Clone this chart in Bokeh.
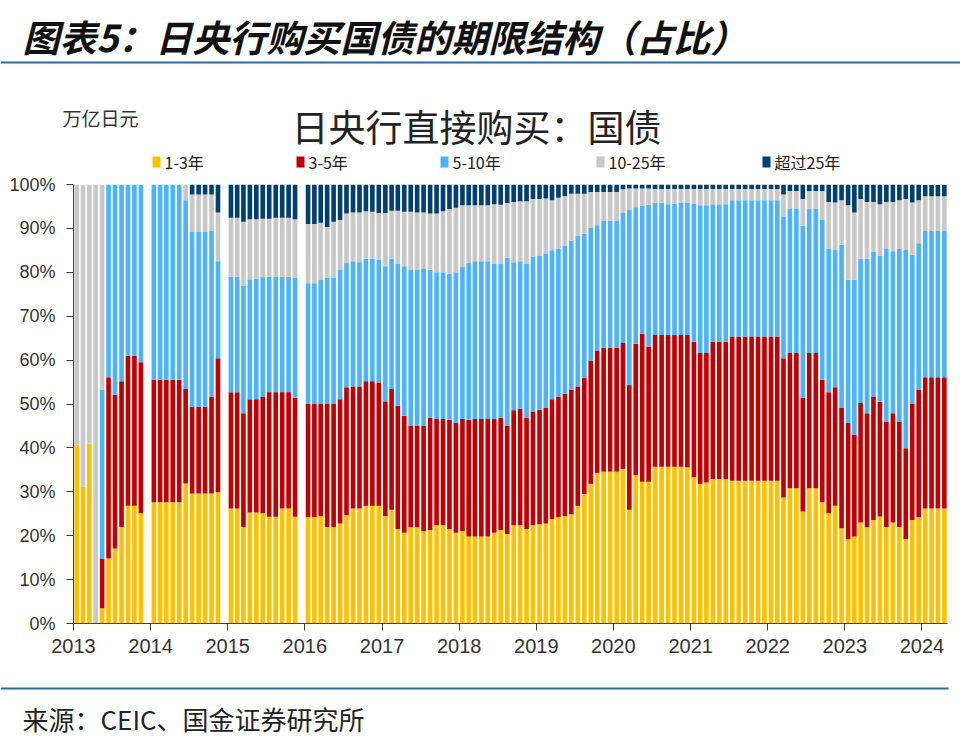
import pandas as pd
from bokeh.plotting import figure
from bokeh.layouts import column
from bokeh.models import ColumnDataSource, Range1d, FixedTicker, DatetimeTickFormatter
from bokeh.core.properties import value
from bokeh.embed import file_html
from bokeh.resources import INLINE

# ---------------- data (share of BOJ JGB purchases by maturity, %) ----------------
start_month = "2013-01-01"
n_months = 136
series_names = ["1-3年", "3-5年", "5-10年", "10-25年", "超过25年"]
year_labels = [str(y) for y in range(2013, 2025)]
y_ticks = [0, 10, 20, 30, 40, 50, 60, 70, 80, 90, 100]

s_1_3 = [40.7, 31.2, 41.0, 0, 3.5, 14.8, 17.1, 22.0, 26.8, 26.8, 25.1, 0,
         27.6, 27.6, 27.6, 27.6, 27.6, 31.9, 29.6, 29.6, 29.6, 29.6, 29.9, 0,
         26.2, 26.2, 22.0, 25.3, 25.3, 25.1, 24.3, 24.3, 26.2, 26.2, 24.3, 0,
         24.2, 24.2, 24.5, 22.0, 22.0, 22.8, 24.7, 26.2, 26.2, 26.8, 26.8, 26.8,
         24.5, 25.9, 21.5, 20.7, 21.9, 21.9, 21.0, 21.3, 22.4, 22.4, 21.5, 20.7,
         21.0, 19.8, 19.8, 19.8, 19.8, 20.7, 21.3, 20.4, 22.4, 22.4, 21.5, 22.4,
         22.6, 22.8, 23.8, 24.2, 24.5, 24.9, 26.8, 29.5, 31.8, 34.3, 34.6, 34.6,
         34.6, 35.2, 25.9, 33.8, 32.3, 32.3, 35.7, 35.7, 35.7, 35.7, 35.7, 35.6,
         33.3, 31.8, 32.1, 32.9, 32.9, 32.9, 32.5, 32.5, 32.5, 32.5, 32.5, 32.5,
         32.5, 32.5, 28.7, 30.8, 30.8, 25.5, 30.8, 30.8, 27.6, 25.1, 26.8, 21.7,
         19.2, 19.8, 23.0, 21.9, 23.6, 24.4, 22.0, 23.0, 22.0, 19.2, 23.6, 24.2,
         26.2, 26.2, 26.2, 26.2]

s_3_5 = [0, 0, 0, 0, 11.3, 41.3, 35.0, 33.2, 34.2, 34.2, 34.4, 0,
         27.9, 27.9, 27.9, 27.9, 27.9, 21.5, 19.8, 19.8, 19.8, 22.1, 30.5, 0,
         26.5, 26.5, 25.9, 25.8, 25.8, 26.6, 28.4, 28.4, 26.5, 26.5, 27.1, 0,
         25.8, 25.8, 25.5, 28.0, 28.0, 28.3, 29.1, 27.8, 27.8, 28.4, 28.4, 28.1,
         26.1, 27.5, 28.1, 26.6, 23.2, 23.2, 24.1, 25.5, 24.2, 24.2, 24.9, 25.0,
         25.6, 26.6, 26.8, 26.8, 26.8, 25.9, 25.5, 24.7, 26.2, 26.5, 25.3, 25.9,
         26.1, 26.3, 27.3, 27.5, 27.8, 28.3, 27.2, 26.4, 28.1, 27.9, 28.2, 28.2,
         28.2, 28.7, 28.4, 29.9, 33.7, 30.8, 30.0, 30.0, 30.0, 30.0, 30.0, 30.1,
         30.9, 29.8, 29.5, 31.3, 31.3, 31.3, 32.9, 32.9, 32.9, 32.9, 32.9, 32.9,
         32.9, 32.9, 31.7, 30.8, 30.8, 25.9, 30.8, 30.8, 27.9, 27.6, 27.0, 27.4,
         26.5, 23.2, 27.2, 26.0, 28.1, 26.1, 24.0, 24.9, 24.0, 20.7, 26.4, 29.1,
         29.9, 29.9, 29.9, 29.9]

s_5_10 = [0, 0, 0, 0, 38.4, 43.9, 47.9, 44.8, 39.0, 39.0, 40.5, 0,
          44.5, 44.5, 44.5, 44.5, 44.5, 43.0, 39.8, 39.8, 39.8, 37.8, 22.1, 0,
          26.3, 26.3, 29.1, 27.3, 27.4, 27.2, 26.3, 26.3, 26.3, 26.3, 27.3, 0,
          27.5, 27.5, 28.3, 28.7, 28.7, 29.4, 28.3, 28.5, 28.3, 27.9, 27.9, 27.9,
          30.8, 29.7, 32.3, 34.1, 35.4, 35.4, 35.8, 33.8, 33.4, 33.4, 33.2, 34.3,
          34.6, 35.7, 35.9, 35.9, 35.9, 35.3, 35.1, 38.2, 33.7, 33.6, 35.1, 35.3,
          35.0, 35.2, 33.9, 33.6, 33.8, 34.0, 34.4, 32.9, 30.2, 28.5, 29.0, 29.0,
          29.0, 29.6, 40.0, 31.1, 29.2, 32.3, 30.2, 30.2, 29.8, 30.0, 30.2, 30.2,
          31.5, 33.7, 33.7, 31.3, 31.3, 31.3, 31.0, 31.0, 31.0, 31.0, 31.0, 31.0,
          31.0, 31.0, 32.2, 32.8, 32.8, 39.2, 32.8, 32.8, 36.5, 32.6, 31.3, 37.2,
          32.6, 35.3, 32.9, 35.2, 32.9, 33.3, 39.3, 36.9, 39.3, 45.2, 34.0, 33.3,
          33.3, 33.3, 33.3, 33.3]

s_10_25 = [59.3, 68.8, 59.0, 100, 46.8, 0, 0, 0, 0, 0, 0, 0,
           0, 0, 0, 0, 0, 3.6, 8.5, 8.5, 8.5, 8.2, 11.1, 0,
           13.4, 13.4, 14.5, 13.7, 13.6, 13.3, 13.2, 13.4, 13.4, 13.4, 13.4, 0,
           13.5, 13.5, 13.0, 11.6, 12.8, 11.4, 11.3, 11.1, 11.3, 10.8, 10.7, 10.7,
           12.1, 10.9, 12.1, 12.4, 13.3, 13.1, 12.7, 12.8, 13.4, 13.9, 14.8, 14.7,
           14.1, 13.2, 12.8, 12.8, 12.8, 13.6, 13.5, 12.5, 13.7, 13.7, 14.3, 13.1,
           13.0, 12.5, 11.4, 11.7, 11.3, 10.7, 9.5, 9.1, 8.2, 7.6, 6.5, 6.5,
           6.5, 5.4, 4.8, 4.3, 3.9, 3.7, 3.1, 3.1, 3.5, 3.3, 3.1, 3.1,
           3.3, 3.7, 3.7, 3.5, 3.5, 3.5, 2.6, 2.6, 2.6, 2.6, 2.6, 2.6,
           2.6, 2.6, 5.1, 4.1, 4.1, 6.1, 4.1, 4.1, 6.5, 10.7, 10.8, 10.1,
           17.0, 15.3, 13.6, 12.9, 11.4, 11.7, 10.7, 11.2, 11.1, 11.6, 11.9, 9.8,
           7.9, 7.9, 7.9, 7.9]

s_25_plus = [0, 0, 0, 0, 0, 0, 0, 0, 0, 0, 0, 0,
             0, 0, 0, 0, 0, 0, 2.3, 2.3, 2.3, 2.3, 6.4, 0,
             7.6, 7.6, 8.5, 7.9, 7.9, 7.8, 7.8, 7.6, 7.6, 7.6, 7.9, 0,
             9.0, 9.0, 8.7, 9.7, 8.5, 8.1, 6.6, 6.4, 6.4, 6.1, 6.2, 6.5,
             6.5, 6.0, 6.0, 6.2, 6.2, 6.4, 6.4, 6.6, 6.6, 6.1, 5.6, 5.3,
             4.7, 4.7, 4.7, 4.7, 4.7, 4.5, 4.6, 4.2, 4.0, 3.8, 3.8, 3.3,
             3.3, 3.2, 3.6, 3.0, 2.6, 2.1, 2.1, 2.1, 1.7, 1.7, 1.7, 1.7,
             1.7, 1.1, 0.9, 0.9, 0.9, 0.9, 1.0, 1.0, 1.0, 1.0, 1.0, 1.0,
             1.0, 1.0, 1.0, 1.0, 1.0, 1.0, 1.0, 1.0, 1.0, 1.0, 1.0, 1.0,
             1.0, 1.0, 2.3, 1.5, 1.5, 3.3, 1.5, 1.5, 1.5, 4.0, 4.1, 3.6,
             4.7, 6.4, 3.3, 4.0, 4.0, 4.5, 4.0, 4.0, 3.6, 3.3, 4.1, 3.6,
             2.6, 2.6, 2.6, 2.6]

colors = ["#FFC000", "#C00000", "#4DB3FF", "#C8C8C8", "#023F6E"]

# ---------------- layout constants ----------------
W = 960
HEAD_H = 173      # header strip: page title, rule, unit, chart title, legend
MAIN_H = 507      # chart strip
FOOT_H = 63       # footer strip: rule + source
cjk = "Noto Sans CJK SC"
rule_col = "#2E6A98"


def strip(h):
    f = figure(width=W, height=h, x_range=Range1d(0, W), y_range=Range1d(h, 0),
               output_backend="svg", toolbar_location=None,
               x_axis_location=None, y_axis_location=None,
               min_border=0, min_border_left=0, min_border_right=0,
               min_border_top=0, min_border_bottom=0, frame_align=False)
    f.outline_line_color = None
    f.grid.visible = False
    f.background_fill_color = "white"
    f.border_fill_color = "white"
    return f


# ---------------- header ----------------
head = strip(HEAD_H)
head.text(x=[22], y=[35], text=["图表5：日央行购买国债的期限结构（占比）"],
          text_font=value(cjk), text_font_size="37px", text_font_style="bold italic",
          text_color="#111111", text_baseline="middle", text_align="left")
head.quad(left=[0], right=[W], top=[61], bottom=[63], fill_color=rule_col,
          line_color=None)
head.text(x=[62], y=[117], text=["万亿日元"], text_font=value(cjk),
          text_font_size="19px", text_color="#333333", text_baseline="middle",
          text_align="left")
head.text(x=[476], y=[125], text=["日央行直接购买：国债"], text_font=value(cjk),
          text_font_size="37px", text_color="#222222", text_baseline="middle",
          text_align="center")
leg_x = [152, 296, 440, 596, 762]
head.quad(left=leg_x, right=[v + 8 for v in leg_x], top=[156] * 5, bottom=[167] * 5,
          fill_color=colors, line_color=None)
head.text(x=[v + 12 for v in leg_x], y=[161] * 5, text=series_names,
          text_font=value(cjk), text_font_size="16px", text_color="#222222",
          text_baseline="middle", text_align="left", text_line_height=1.0)

# ---------------- main chart ----------------
months = pd.date_range(start_month, periods=n_months, freq="MS")
next_months = months.shift(1, freq="MS")
mid = months + (next_months - months) / 2

keys = ["s13", "s35", "s510", "s1025", "s25"]
src = ColumnDataSource(dict(x=mid, s13=s_1_3, s35=s_3_5, s510=s_5_10,
                            s1025=s_10_25, s25=s_25_plus))

p = figure(width=W, height=MAIN_H, x_axis_type="datetime", output_backend="svg",
           toolbar_location=None,
           x_range=Range1d(months[0], next_months[-1]), y_range=Range1d(0, 100),
           min_border_left=73, min_border_right=13, min_border_top=11,
           min_border_bottom=57, frame_align=False)
p.outline_line_color = None
p.grid.visible = False
p.background_fill_color = "white"
p.border_fill_color = "white"

bar_w = 0.72 * 30.44 * 24 * 3600 * 1000
p.vbar_stack(keys, x="x", width=bar_w, source=src, fill_color=colors,
             line_color=None)

axis_col = "#404040"
lab_col = "#333333"
tick_font = "Liberation Sans"

ya = p.yaxis[0]
ya.ticker = FixedTicker(ticks=y_ticks)
ya.major_label_overrides = {t: f"{t}%" for t in y_ticks}
ya.major_label_text_font = tick_font
ya.major_label_text_font_size = "18px"
ya.major_label_text_color = lab_col
ya.axis_line_color = axis_col
ya.major_tick_line_color = axis_col
ya.major_tick_out = 7
ya.major_tick_in = 0
ya.minor_tick_line_color = None
ya.major_label_standoff = 11

xa = p.xaxis[0]
year_starts = pd.to_datetime([f"{y}-01-01" for y in year_labels])
xa.ticker = FixedTicker(ticks=[t.value / 1e6 for t in year_starts])
xa.formatter = DatetimeTickFormatter(years="%Y", months="%Y", days="%Y",
                                     hours="%Y", context=None)
xa.major_label_text_font = tick_font
xa.major_label_text_font_size = "20px"
xa.major_label_text_color = lab_col
xa.axis_line_color = axis_col
xa.major_tick_line_color = axis_col
xa.major_tick_out = 7
xa.major_tick_in = 0
xa.minor_tick_line_color = None
xa.major_label_standoff = 8

# ---------------- footer ----------------
foot = strip(FOOT_H)
foot.quad(left=[0], right=[948], top=[7], bottom=[9], fill_color=rule_col,
          line_color=None)
foot.text(x=[22], y=[38], text=["来源：CEIC、国金证券研究所"], text_font=value(cjk),
          text_font_size="26px", text_color="#222222", text_baseline="middle",
          text_align="left")

layout = column(head, p, foot, spacing=0)
open("out.html", "w").write(file_html(layout, INLINE))
